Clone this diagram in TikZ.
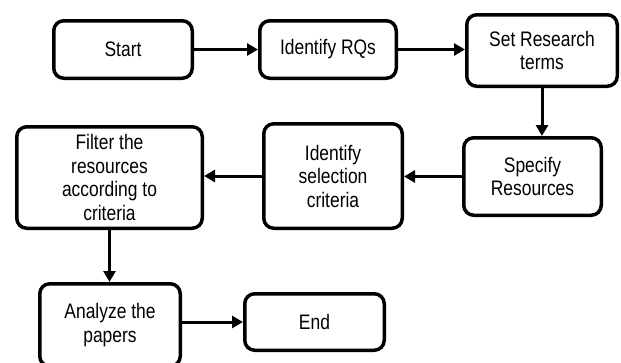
\documentclass[tikz,border=0pt]{standalone}
\usepackage{fontspec}
\setmainfont{Liberation Sans}[FakeStretch=0.83]
\usetikzlibrary{arrows.meta}
\begin{document}
\begin{tikzpicture}[x=1pt,y=-1pt,
  stepbox/.style={draw=black, line width=3.5pt, rounded corners=10pt, fill=white,
    align=center, inner sep=0pt, font=\fontsize{21}{23.5}\selectfont},
  flow/.style={line width=3pt, -{Triangle[length=11pt,width=12pt]}}]
\useasboundingbox (0,0) rectangle (621,362);
\node[stepbox, minimum width=138.5pt, minimum height=57.5pt] (start) at (123,49.5) {Start};
\node[stepbox, minimum width=136.5pt, minimum height=57.5pt] (rqs) at (328,49.5) {Identify RQs};
\node[stepbox, minimum width=150.5pt, minimum height=71.5pt] (terms) at (542,50.5) {Set Research\\terms};
\node[stepbox, minimum width=137.5pt, minimum height=77.5pt] (res) at (532.5,176.5) {Specify\\Resources};
\node[stepbox, minimum width=138.5pt, minimum height=104.5pt] (sel) at (333,176) {Identify\\selection\\criteria};
\node[stepbox, minimum width=185.5pt, minimum height=101.5pt] (filter) at (109.5,177.5) {Filter the\\resources\\according to\\criteria};
\node[stepbox, minimum width=140.5pt, minimum height=82.5pt] (ana) at (110,325) {Analyze the\\papers};
\node[stepbox, minimum width=139.5pt, minimum height=56.5pt] (end) at (314.5,322) {End};
\draw[flow] (start.east) -- (rqs.west);
\draw[flow] (rqs.east) -- (rqs.east -| terms.west);
\draw[flow] (terms.south) -- (terms.south |- res.north);
\draw[flow] (res.west) -- (res.west -| sel.east);
\draw[flow] (sel.west) -- (sel.west -| filter.east);
\draw[flow] (filter.south) -- (filter.south |- ana.north);
\draw[flow] (ana.east |- end.west) -- (end.west);
\end{tikzpicture}
\end{document}
